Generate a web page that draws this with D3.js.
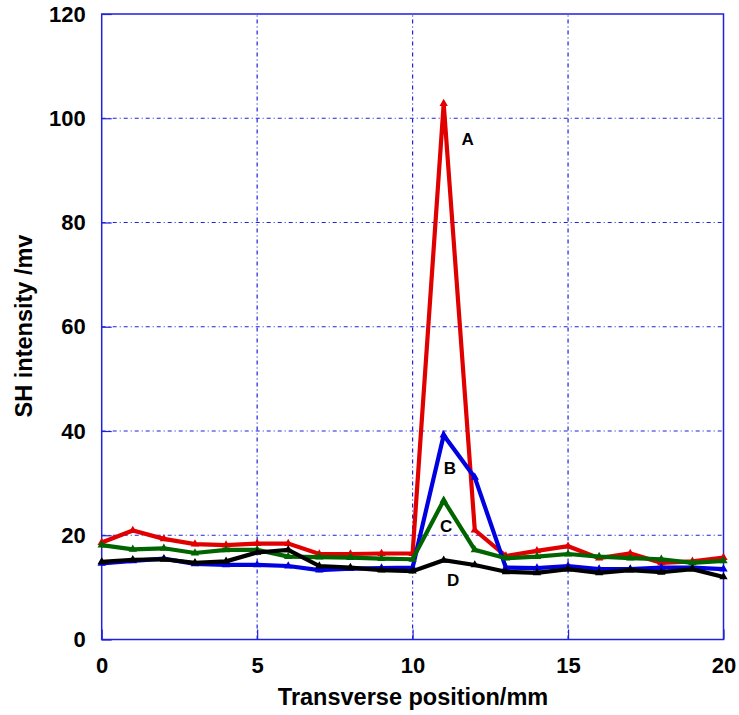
<!DOCTYPE html>
<html>
<head>
<meta charset="utf-8">
<script src="https://cdn.jsdelivr.net/npm/d3@7"></script>
<style>
html,body{margin:0;padding:0;background:#fff;}
svg{display:block;font-family:"Liberation Sans",Arial,sans-serif;}
</style>
</head>
<body>
<svg id="chart" width="739" height="715"></svg>
<script>
const positions = [0,1,2,3,4,5,6,7,8,9,10,11,12,13,14,15,16,17,18,19,20];
const seriesA = [18.6,20.9,19.3,18.3,18.1,18.4,18.4,16.4,16.4,16.5,16.5,102.8,21.0,16.0,17.0,17.9,15.6,16.5,14.7,15.0,15.7];
const seriesB = [14.6,15.1,15.5,14.5,14.3,14.3,14.1,13.3,13.6,13.7,13.8,39.2,31.1,13.8,13.7,14.1,13.5,13.5,13.8,13.8,13.5];
const seriesC = [18.1,17.3,17.5,16.6,17.2,17.2,15.9,15.8,15.7,15.5,15.4,26.7,17.2,15.6,15.9,16.4,15.9,15.6,15.4,14.7,15.1];
const seriesD = [14.9,15.3,15.4,14.7,15.0,16.7,17.2,14.1,13.8,13.3,13.1,15.2,14.3,13.0,12.8,13.5,12.8,13.3,12.9,13.5,12.0];
const seriesNames = ["A","B","C","D"];
const seriesColors = ["#e00000","#0000e0","#006400","#000000"];
const xTicks = [0,5,10,15,20];
const yTicks = [0,20,40,60,80,100,120];
const labelPos = [[11.77,96.0],[11.2,32.9],[11.08,21.6],[11.3,11.4]];

const svg = d3.select("#chart");
const m = {left:101.7, right:15.5, top:14, bottom:75.5};
const W = 739, H = 715;
const x = d3.scaleLinear().domain([0,20]).range([m.left, W - m.right]);
const y = d3.scaleLinear().domain([0,120]).range([H - m.bottom, m.top]);

const gridColor = "#2020e0";
// grid lines
svg.append("g").selectAll("line").data(xTicks.slice(1,-1)).join("line")
  .attr("x1", d=>x(d)).attr("x2", d=>x(d)).attr("y1", y(0)).attr("y2", y(120))
  .attr("stroke", gridColor).attr("stroke-width",1.2).attr("stroke-dasharray","4,3,1,3");
svg.append("g").selectAll("line").data(yTicks.slice(1,-1)).join("line")
  .attr("x1", x(0)).attr("x2", x(20)).attr("y1", d=>y(d)).attr("y2", d=>y(d))
  .attr("stroke", gridColor).attr("stroke-width",1.2).attr("stroke-dasharray","4,3,1,3");

// axes with inner ticks
const xAxis = d3.axisBottom(x).tickValues(xTicks).tickSize(-10).tickPadding(18).tickFormat(d3.format("d"));
const yAxis = d3.axisLeft(y).tickValues(yTicks).tickSize(-10).tickPadding(16).tickFormat(d3.format("d"));
const gx = svg.append("g").attr("transform",`translate(0,${y(0)})`).call(xAxis);
const gy = svg.append("g").attr("transform",`translate(${x(0)},0)`).call(yAxis);
[gx,gy].forEach(g=>{
  g.select(".domain").remove();
  g.selectAll(".tick line").attr("stroke", gridColor).attr("stroke-width",1.2);
  g.selectAll(".tick text").attr("fill","#000").attr("font-size",22).attr("font-weight","bold")
    .attr("font-family","'Liberation Sans',Arial,sans-serif");
});
gx.selectAll(".tick text").attr("dy","0.71em");
// frame
svg.append("rect").attr("x", x(0)).attr("y", y(120)).attr("width", x(20)-x(0)).attr("height", y(0)-y(120))
  .attr("fill","none").attr("stroke", gridColor).attr("stroke-width",1.5);

// series
const allSeries = [seriesA, seriesB, seriesC, seriesD];
const line = d3.line().x((d,i)=>x(positions[i])).y(d=>y(d));
const tri = d3.symbol().type(d3.symbolTriangle).size(30);
allSeries.forEach((s,k)=>{
  const g = svg.append("g");
  g.append("path").datum(s).attr("d", line).attr("fill","none")
    .attr("stroke", seriesColors[k]).attr("stroke-width",4.2).attr("stroke-linejoin","miter").attr("stroke-miterlimit",10);
  g.selectAll("path.m").data(s).join("path").attr("class","m")
    .attr("d", tri).attr("transform",(d,i)=>`translate(${x(positions[i])},${y(d)})`)
    .attr("fill", seriesColors[k]);
});

// labels
svg.append("g").selectAll("text").data(seriesNames).join("text")
  .attr("x",(d,i)=>x(labelPos[i][0])).attr("y",(d,i)=>y(labelPos[i][1]))
  .attr("text-anchor","middle").attr("dominant-baseline","central")
  .attr("font-size",17).attr("font-weight","bold").text(d=>d);

// axis titles
svg.append("text").attr("x", 413).attr("y", 697).attr("text-anchor","middle")
  .attr("dominant-baseline","central").attr("font-size",23.5).attr("font-weight","bold")
  .text("Transverse position/mm");
svg.append("text").attr("transform","translate(24,326) rotate(-90)").attr("text-anchor","middle")
  .attr("dominant-baseline","central").attr("font-size",23.5).attr("font-weight","bold")
  .text("SH intensity /mv");
</script>
</body>
</html>
